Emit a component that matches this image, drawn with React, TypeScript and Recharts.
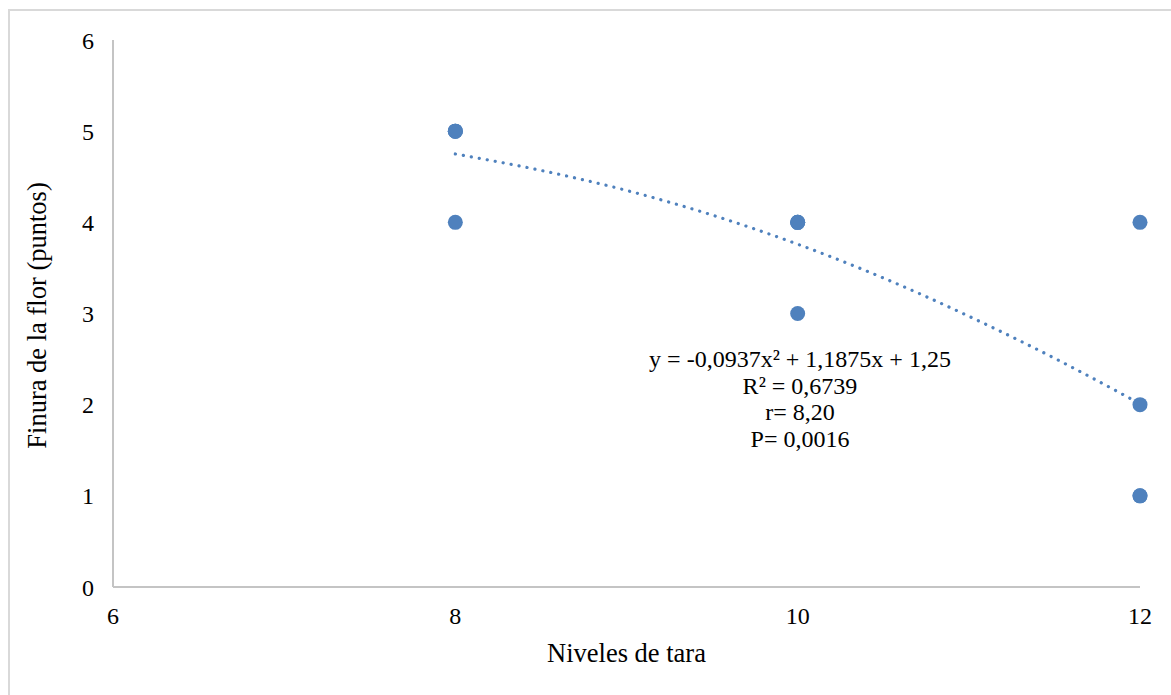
import { ComposedChart, Scatter, Line, XAxis, YAxis } from 'recharts'

// Niveles de tara (x) and finura de la flor (y), one entry per observation
const tara = [8, 8, 8, 8, 10, 10, 10, 10, 12, 12, 12, 12]
const finura = [5, 5, 5, 4, 4, 4, 4, 3, 4, 2, 1, 1]

// dotted polynomial trendline
const trendX = [8, 8.5, 9, 9.5, 10, 10.5, 11, 11.5, 12]
const trendY = [4.75, 4.57, 4.35, 4.08, 3.76, 3.39, 2.97, 2.51, 2.01]

const xTicks = [6, 8, 10, 12]
const yTicks = [0, 1, 2, 3, 4, 5, 6]

const annotation = [
  'y = -0,0937x² + 1,1875x + 1,25',
  'R² = 0,6739',
  'r= 8,20',
  'P= 0,0016',
]

const FONT = "'Liberation Serif', 'Times New Roman', serif"
const BLUE = '#4F81BD'
const AXIS = '#C4C4C4'

const points = tara.map((x, i) => ({ x, y: finura[i] }))
const trend = trendX.map((x, i) => ({ x, y: trendY[i] }))

const YTitle = ({ viewBox }: any) => {
  const cx = 37
  const cy = viewBox.y + viewBox.height / 2 + 2
  return (
    <text
      x={cx}
      y={cy}
      transform={`rotate(-90 ${cx} ${cy})`}
      textAnchor="middle"
      dominantBaseline="central"
      fontFamily={FONT}
      fontSize={26.5}
      fill="#000"
    >
      Finura de la flor (puntos)
    </text>
  )
}

export default function App() {
  return (
    <div style={{ position: 'absolute', left: 0, top: 0, width: 1171, height: 695, overflow: 'hidden', background: '#fff' }}>
      {/* outer chart frame, only top/left edges fall inside the picture */}
      <div
        style={{
          position: 'absolute',
          left: 8,
          top: 9,
          width: 1200,
          height: 720,
          borderLeft: '2px solid #D9D9D9',
          borderTop: '2px solid #D9D9D9',
        }}
      />
      <div style={{ position: 'absolute', left: 0, top: 0 }}>
        <ComposedChart width={1171} height={695} margin={{ top: 40, right: 31, bottom: 0, left: 0 }}>
          <XAxis
            type="number"
            dataKey="x"
            domain={[6, 12]}
            ticks={xTicks}
            height={108}
            axisLine={{ stroke: AXIS, strokeWidth: 2 }}
            tickLine={false}
            tickSize={0}
            tickMargin={20}
            tick={{ fill: '#000', fontSize: 24, fontFamily: FONT }}
            label={{ value: 'Niveles de tara', position: 'insideBottom', offset: 33, fill: '#000', fontSize: 26.5, fontFamily: FONT }}
          />
          <YAxis
            type="number"
            dataKey="y"
            domain={[0, 6]}
            ticks={yTicks}
            width={113}
            axisLine={{ stroke: AXIS, strokeWidth: 2 }}
            tickLine={false}
            tickSize={0}
            tickMargin={19}
            tick={{ fill: '#000', fontSize: 24, fontFamily: FONT }}
            label={YTitle}
          />
          <Line
            data={trend}
            dataKey="y"
            type="monotone"
            stroke={BLUE}
            strokeWidth={3.2}
            strokeDasharray="0.1 8"
            strokeLinecap="round"
            dot={false}
            activeDot={false}
            isAnimationActive={false}
          />
          <Scatter
            data={points}
            dataKey="y"
            fill={BLUE}
            shape={(p: any) => <circle cx={p.cx} cy={p.cy} r={7.5} fill={BLUE} />}
            isAnimationActive={false}
          />
        </ComposedChart>
      </div>
      <div
        style={{
          position: 'absolute',
          left: 800,
          top: 346,
          transform: 'translateX(-50%)',
          textAlign: 'center',
          whiteSpace: 'nowrap',
          fontFamily: FONT,
          fontSize: 24,
          lineHeight: '26.7px',
          color: '#000',
        }}
      >
        {annotation.map((t) => (
          <div key={t}>{t}</div>
        ))}
      </div>
    </div>
  )
}
